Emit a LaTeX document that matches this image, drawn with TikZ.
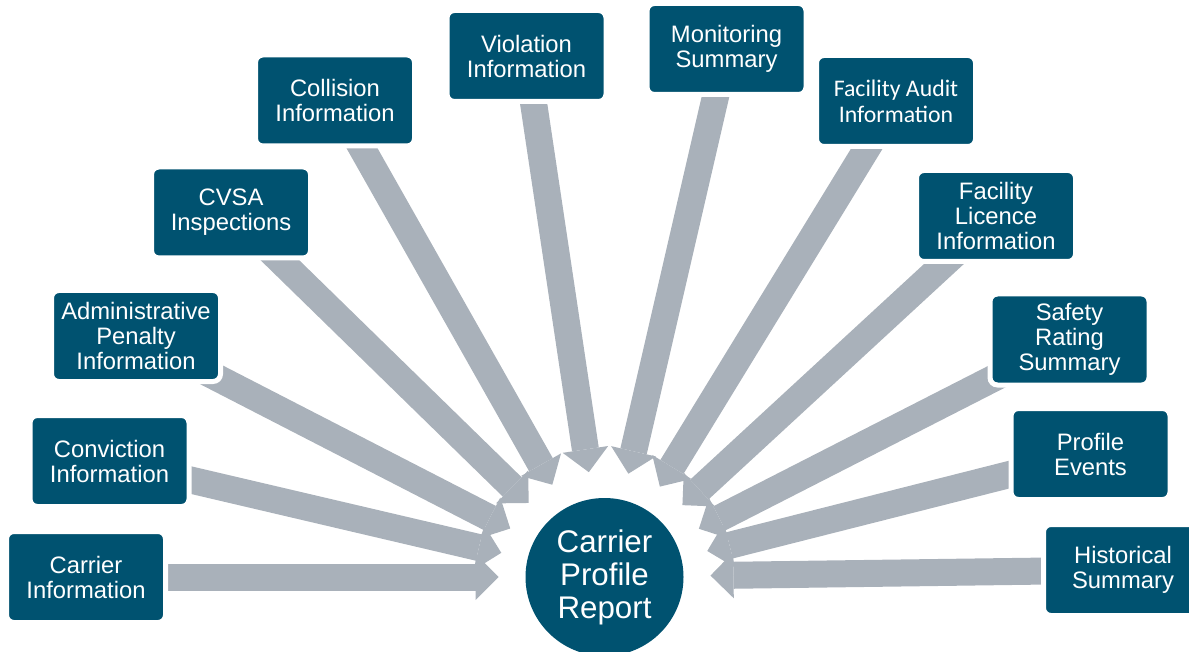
\documentclass[tikz,border=0pt]{standalone}
\usepackage{fontspec}
\setmainfont{Liberation Sans}
\newfontfamily\calib{Carlito}
\usetikzlibrary{calc,arrows.meta,backgrounds}
\definecolor{boxblue}{RGB}{0,82,112}
\definecolor{arrgray}{RGB}{169,177,186}
\tikzset{
  box/.style={fill=boxblue, draw=white, line width=5pt, rounded corners=7.5pt,
    minimum width=159pt, minimum height=91pt, inner sep=0pt, align=center,
    text=white, font=\fontsize{23.8}{25}\selectfont},
  feed/.style={draw=arrgray, line width=27pt,
    -{Triangle[width=46pt,length=23pt,line width=0pt]}},
  hub/.style={circle, fill=boxblue, minimum size=158pt, inner sep=0pt,
    align=center, text=white, font=\fontsize{31.3}{33}\selectfont}
}
\begin{document}
\begin{tikzpicture}[x=1pt,y=-1pt]
\useasboundingbox (0,0) rectangle (1189,652);
\node[hub] (hub) at (604.5,577) {Carrier\\Profile\\Report};
\node[box] (b1) at (86,577) {Carrier\\Information};
\node[box] (b2) at (109.5,461) {Conviction\\Information};
\node[box, minimum width=169pt] (b3) at (136,336) {Administrative\\Penalty\\Information};
\node[box] (b4) at (231,212.5) {CVSA\\Inspections};
\node[box] (b5) at (335,100.5) {Collision\\Information};
\node[box] (b6) at (526.5,56) {Violation\\Information};
\node[box] (b7) at (726.5,49) {Monitoring\\Summary};
\node[box, font=\calib\fontsize{23.8}{26}\selectfont] (b8) at (896,101) {Facility Audit\\Information};
\node[box] (b9) at (996,216) {Facility\\Licence\\Information};
\node[box] (b10) at (1069.5,339.5) {Safety\\Rating\\Summary};
\node[box] (b11) at (1090.5,454) {Profile\\Events};
\node[box] (b12) at (1123,570) {Historical\\Summary};
\begin{pgfonlayer}{background}
\foreach \b in {b1,b2,b3,b4,b5,b6,b7,b8,b9,b10,b11,b12}
  \draw[feed] (\b.center) -- ($(hub.center)!106pt!(\b.center)$);
\end{pgfonlayer}
\end{tikzpicture}
\end{document}
